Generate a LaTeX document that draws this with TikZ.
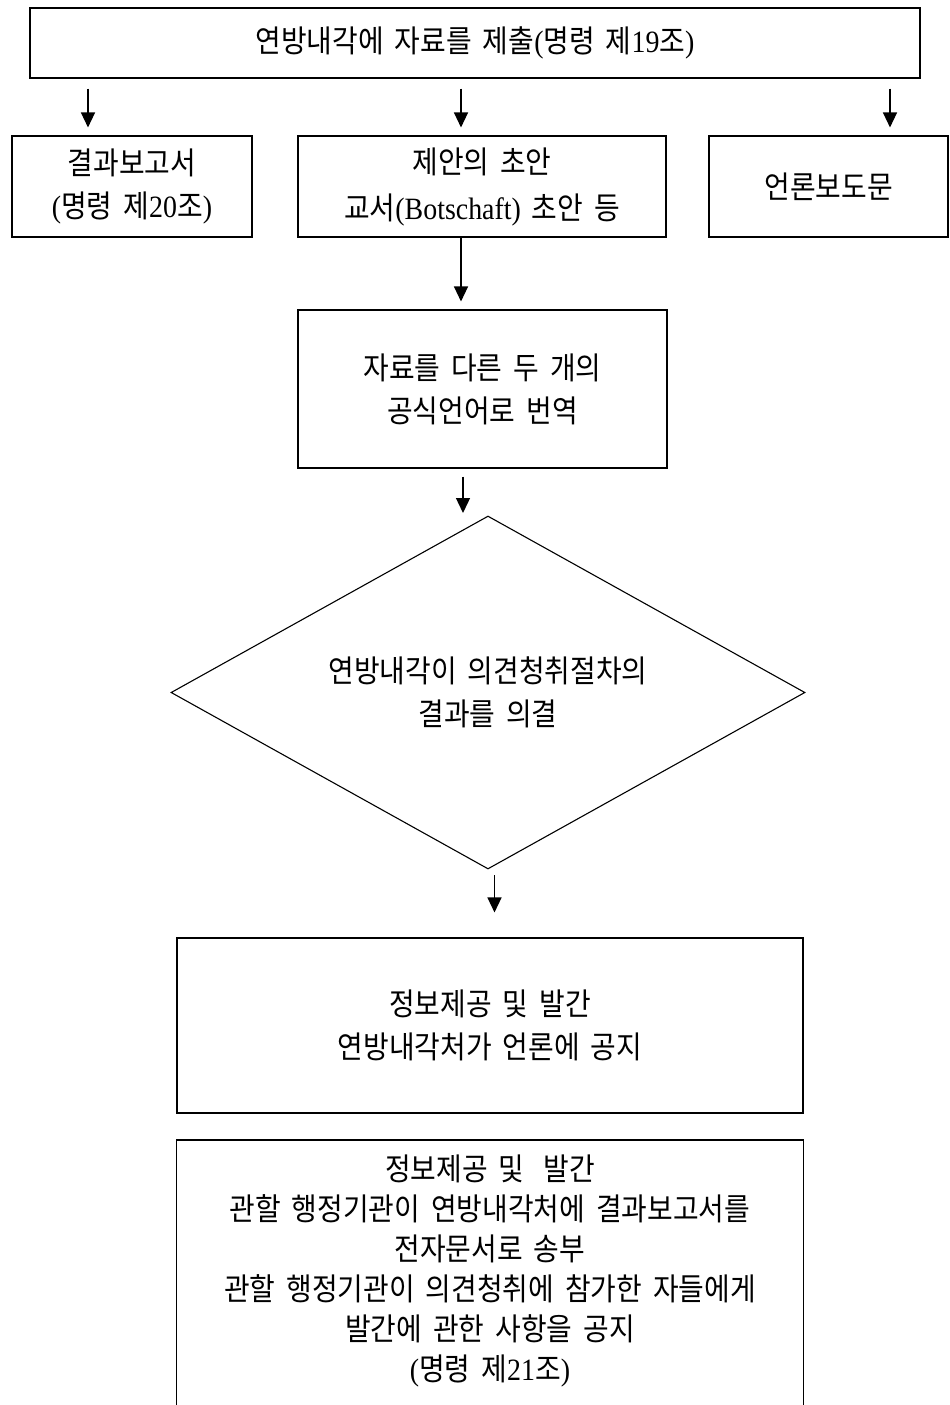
\documentclass[tikz,border=0pt]{standalone}
\usepackage{fontspec}
\setmainfont[FakeStretch=0.9]{Noto Sans CJK KR}
\newfontfamily\latinfont[FakeStretch=0.9]{Liberation Serif}
\newcommand\lt[1]{{\latinfont #1}}
\newcommand\boxtext{\fontsize{31}{43}\selectfont\spaceskip=11pt\relax}
\newcommand\boxtextwide{\fontsize{31}{46}\selectfont\spaceskip=11pt\relax}
\newcommand\boxtextnarrow{\fontsize{31}{40}\selectfont\spaceskip=11pt\relax}
\usetikzlibrary{arrows.meta,shapes.geometric}

\begin{document}
\begin{tikzpicture}[x=1pt,y=-1pt,
  frame/.style={draw, line width=1.1pt},
  stepbox/.style={frame, inner sep=0pt, align=center, font=\boxtext},
  decision/.style={frame, diamond, shape aspect=1.8, inner sep=0pt,
    align=center, font=\boxtext, minimum width=634, minimum height=353},
  txt/.style={inner sep=0pt, align=center, font=\boxtextnarrow},
  arr/.style={line width=1.3pt, -{Triangle[length=15pt,width=14pt]}}]

\useasboundingbox (0,0) rectangle (950,1405);

% top row
\node[stepbox, minimum width=890, minimum height=70] (top) at (475,43)
  {연방내각에 자료를 제출\lt{(}명령 제\lt{19}조\lt{)}};

% second row
\node[stepbox, minimum width=240, minimum height=101] (lb) at (132,186.5)
  {결과보고서\\ \lt{(}명령 제\lt{20}조\lt{)}};
\node[stepbox, minimum width=368, minimum height=101, font=\boxtextwide] (mb) at (482,186.5)
  {제안의 초안\\ 교서\lt{(Botschaft)} 초안 등};
\node[stepbox, minimum width=239, minimum height=101] (rb) at (828.5,186.5)
  {언론보도문};

% translation
\node[stepbox, minimum width=369, minimum height=158] (tb) at (482.5,389)
  {자료를 다른 두 개의\\ 공식언어로 번역};

% decision
\node[decision] (dec) at (488,692.5)
  {연방내각이 의견청취절차의\\ 결과를 의결};

% publication
\node[stepbox, minimum width=626, minimum height=175] (pub) at (490,1025.5)
  {정보제공 및 발간\\ 연방내각처가 언론에 공지};

% last box, running past the lower edge
\node[minimum width=626, minimum height=290, inner sep=0pt, anchor=north] (last) at (490,1140) {};
\draw[frame] (last.south west) -- (last.north west) -- (last.north east) -- (last.south east);
\node[txt] (lasttext) at (490,1271)
  {정보제공 및 \hspace{8pt}발간\\
   관할 행정기관이 연방내각처에 결과보고서를\\
   전자문서로 송부\\
   관할 행정기관이 의견청취에 참가한 자들에게\\
   발간에 관한 사항을 공지\\
   \lt{(}명령 제\lt{21}조\lt{)}};

% connectors
\coordinate (c1) at (88,0);
\coordinate (c2) at (461,0);
\coordinate (c3) at (890,0);
\draw[arr, shorten <=10pt, shorten >=8pt] (top.south -| c1) -- (lb.north -| c1);
\draw[arr, shorten <=10pt, shorten >=8pt] (top.south -| c2) -- (mb.north -| c2);
\draw[arr, shorten <=10pt, shorten >=8pt] (top.south -| c3) -- (rb.north -| c3);
\draw[arr, shorten >=8pt] (mb.south -| c2) -- (tb.north -| c2);
\coordinate (d1) at (463,513);
\draw[arr, shorten <=8pt] (tb.south -| d1) -- (d1);
\coordinate (e1) at (494.5,875);
\draw[arr, shorten >=25pt] (e1) -- (pub.north -| e1);
\end{tikzpicture}
\end{document}
